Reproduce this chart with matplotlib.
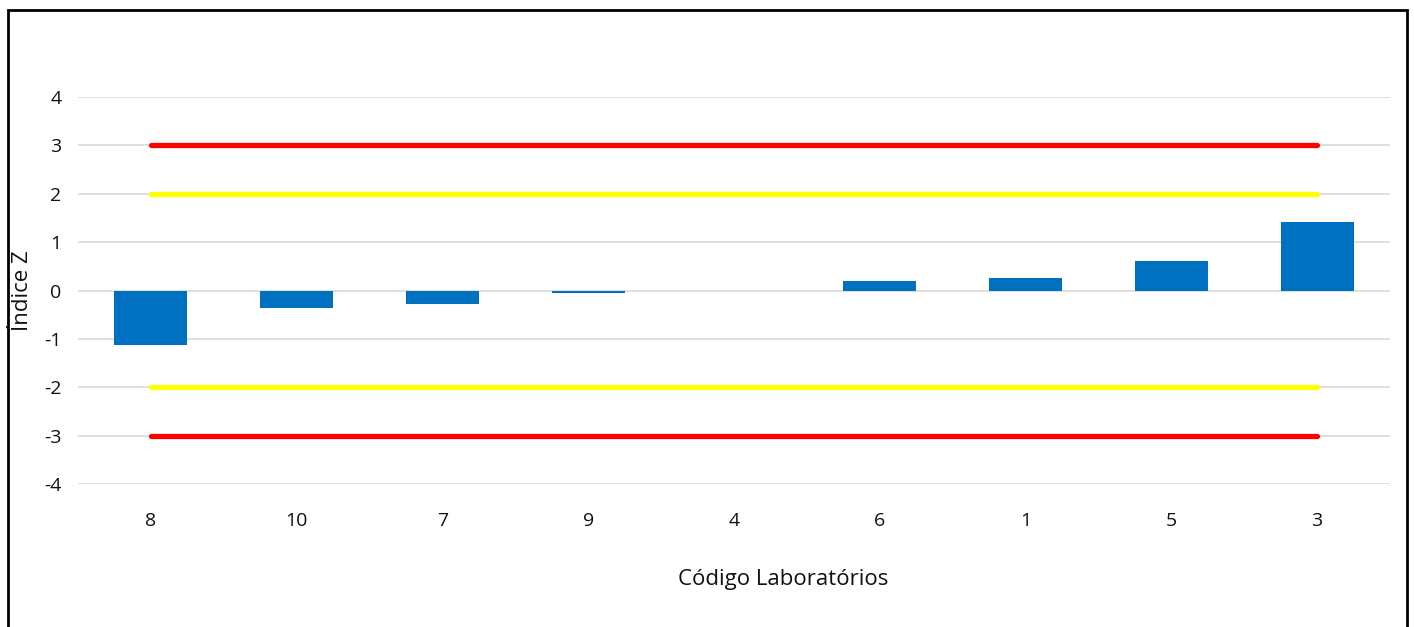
import matplotlib
matplotlib.use("Agg")
import matplotlib.pyplot as plt
from matplotlib.patches import Rectangle

labs = ["8", "10", "7", "9", "4", "6", "1", "5", "3"]
zvals = [-1.12, -0.37, -0.28, -0.05, 0.0, 0.20, 0.26, 0.60, 1.41]
yticks = [-4, -3, -2, -1, 0, 1, 2, 3, 4]
warn = 2
action = 3

plt.rcParams['font.family'] = ['Open Sans', 'DejaVu Sans']

W, H = 1414, 627
fig = plt.figure(figsize=(W/100, H/100), dpi=100)
ax = fig.add_axes([78/W, 1-484/H, (1390-78)/W, (484-97)/H])

x = list(range(len(labs)))
ax.bar(x, zvals, width=0.5, color="#0070C0", zorder=3)

for val, col in [(action, "#FF0000"), (-action, "#FF0000"), (warn, "#FFFF00"), (-warn, "#FFFF00")]:
    ax.plot([x[0], x[-1]], [val, val], color=col, lw=3.8, solid_capstyle="round", zorder=4)

ax.set_xlim(-0.5, len(labs)-0.5)
ax.set_ylim(-4, 4)
ax.set_yticks(yticks)
ax.set_yticklabels([str(t) for t in yticks])
ax.set_xticks(x)
ax.set_xticklabels(labs)
ax.grid(axis='y', color="#D9D9D9", lw=1.2, zorder=0)
ax.set_axisbelow(True)
for s in ax.spines.values():
    s.set_visible(False)
ax.tick_params(axis='both', length=0, labelsize=14, colors="#111111")
ax.tick_params(axis='x', pad=20)
ax.tick_params(axis='y', pad=12)

fig.text(783/W, 1-580/H, "Código Laboratórios", ha='center', va='center', fontsize=16, color="#111111")
fig.text(22/W, 1-291/H, "Índice Z", ha='center', va='center', rotation=90, fontsize=16, color="#111111")

fig.patches.append(Rectangle((8/W, -0.05), (1407-8)/W, 1-10/H+0.05, transform=fig.transFigure,
                             fill=False, edgecolor="black", lw=2.0))

fig.savefig("out.png", dpi=100)
